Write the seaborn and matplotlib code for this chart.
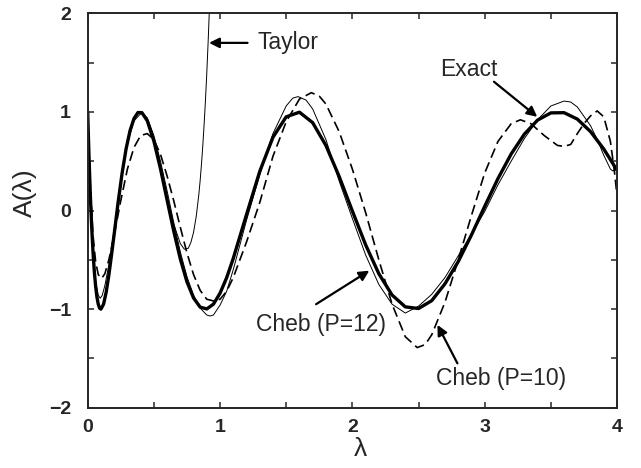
import matplotlib
matplotlib.use("Agg")
import matplotlib.pyplot as plt
import seaborn as sns
import pandas as pd
from matplotlib.ticker import MultipleLocator

# ---------------- data ----------------
exact_x = [0, 0.01, 0.02, 0.03, 0.04, 0.05, 0.06, 0.07, 0.08, 0.09, 0.1, 0.12, 0.14, 0.16,
           0.18, 0.2, 0.23, 0.26, 0.29, 0.32, 0.35, 0.38, 0.41, 0.45, 0.5, 0.55, 0.6, 0.65,
           0.7, 0.75, 0.8, 0.85, 0.9, 0.95, 1.0, 1.05, 1.1, 1.2, 1.3, 1.4, 1.5, 1.6, 1.7, 1.8,
           1.9, 2.0, 2.1, 2.2, 2.3, 2.4, 2.5, 2.6, 2.7, 2.8, 2.9, 3.0, 3.1, 3.2, 3.3, 3.4,
           3.5, 3.6, 3.7, 3.8, 3.9, 4.0]
exact_y = [1.0, 0.54, 0.156, -0.16, -0.416, -0.617, -0.768, -0.879, -0.951, -0.99, -1.0,
           -0.95, -0.826, -0.654, -0.451, -0.24, 0.084, 0.378, 0.624, 0.81, 0.933, 0.994,
           0.992, 0.911, 0.705, 0.424, 0.107, -0.207, -0.491, -0.723, -0.887, -0.98, -0.998,
           -0.95, -0.839, -0.682, -0.486, -0.042, 0.396, 0.743, 0.95, 0.997, 0.891, 0.66,
           0.346, -0.005, -0.347, -0.641, -0.857, -0.977, -0.994, -0.914, -0.743, -0.518,
           -0.248, 0.042, 0.323, 0.573, 0.775, 0.917, 0.99, 0.992, 0.927, 0.8, 0.623, 0.409]

taylor_x = [0, 0.01, 0.02, 0.03, 0.04, 0.05, 0.06, 0.07, 0.08, 0.09, 0.1, 0.12, 0.14, 0.16,
            0.18, 0.2, 0.23, 0.26, 0.29, 0.32, 0.35, 0.38, 0.41, 0.45, 0.5, 0.55, 0.6, 0.65,
            0.7, 0.73, 0.76, 0.78, 0.8, 0.82, 0.84, 0.85, 0.86, 0.87, 0.88, 0.89, 0.9, 0.91,
            0.92]
taylor_y = [1.0, 0.54, 0.156, -0.16, -0.416, -0.617, -0.768, -0.879, -0.951, -0.99, -1.0,
            -0.95, -0.826, -0.654, -0.451, -0.24, 0.084, 0.378, 0.624, 0.81, 0.933, 0.994,
            0.992, 0.911, 0.709, 0.435, 0.136, -0.137, -0.335, -0.392, -0.383, -0.323,
            -0.221, -0.062, 0.164, 0.306, 0.473, 0.661, 0.876, 1.12, 1.395, 1.704, 2.05]

cheb12_x = [0, 0.02, 0.04, 0.06, 0.08, 0.095, 0.11, 0.13, 0.16, 0.2, 0.25, 0.3, 0.35, 0.4,
            0.42, 0.45, 0.5, 0.55, 0.6, 0.65, 0.7, 0.75, 0.8, 0.85, 0.9, 0.925, 0.95, 1.0,
            1.05, 1.1, 1.2, 1.3, 1.4, 1.5, 1.55, 1.59, 1.65, 1.7, 1.8, 1.9, 2.0, 2.1, 2.2,
            2.3, 2.4, 2.5, 2.6, 2.7, 2.8, 2.9, 3.0, 3.1, 3.2, 3.3, 3.4, 3.5, 3.6, 3.65, 3.7,
            3.8, 3.85, 3.9, 3.95, 3.97, 4.0]
cheb12_y = [1.0, 0.2, -0.4, -0.72, -0.86, -0.89, -0.86, -0.76, -0.55, -0.2, 0.3, 0.68,
            0.91, 0.98, 0.98, 0.94, 0.76, 0.5, 0.2, -0.12, -0.42, -0.67, -0.86, -0.99,
            -1.06, -1.07, -1.06, -0.96, -0.82, -0.6, -0.1, 0.36, 0.78, 1.06, 1.14, 1.155,
            1.12, 1.03, 0.72, 0.3, -0.08, -0.45, -0.75, -0.95, -1.04, -0.97, -0.85, -0.68,
            -0.46, -0.24, -0.01, 0.26, 0.5, 0.73, 0.92, 1.06, 1.11, 1.1, 1.05, 0.86, 0.72,
            0.56, 0.42, 0.4, 0.45]

cheb10_x = [0, 0.02, 0.04, 0.06, 0.08, 0.105, 0.13, 0.16, 0.2, 0.25, 0.3, 0.35, 0.4, 0.45,
            0.5, 0.55, 0.6, 0.65, 0.7, 0.75, 0.8, 0.85, 0.9, 0.96, 1.0, 1.05, 1.1, 1.2, 1.3,
            1.4, 1.5, 1.6, 1.69, 1.75, 1.8, 1.9, 2.0, 2.1, 2.2, 2.3, 2.4, 2.49, 2.55, 2.6,
            2.7, 2.8, 2.9, 3.0, 3.1, 3.2, 3.27, 3.35, 3.45, 3.55, 3.6, 3.65, 3.7, 3.75, 3.8,
            3.85, 3.9, 3.95, 3.98, 4.0]
cheb10_y = [0.95, 0.25, -0.25, -0.52, -0.65, -0.69, -0.64, -0.5, -0.25, 0.1, 0.42, 0.64,
            0.76, 0.78, 0.72, 0.57, 0.35, 0.1, -0.17, -0.43, -0.65, -0.81, -0.9, -0.92,
            -0.9, -0.82, -0.68, -0.32, 0.08, 0.55, 0.9, 1.13, 1.195, 1.16, 1.08, 0.8, 0.42,
            -0.02, -0.5, -0.95, -1.28, -1.39, -1.36, -1.26, -0.93, -0.5, -0.05, 0.38, 0.7,
            0.88, 0.92, 0.88, 0.76, 0.66, 0.65, 0.67, 0.78, 0.88, 0.96, 1.01, 0.95, 0.7,
            0.4, 0.15]

labels = ["Taylor", "Exact", "Cheb (P=12)", "Cheb (P=10)"]
x_ticks = [0, 1, 2, 3, 4]
y_ticks = [-2, -1, 0, 1, 2]

# ---------------- figure ----------------
sns.set_style("ticks")
plt.rcParams['font.family'] = ['Liberation Sans', 'DejaVu Sans']
plt.rcParams['axes.linewidth'] = 1.4

fig = plt.figure(figsize=(6.41, 4.68), dpi=100)
ax = fig.add_axes([0.1368, 0.1288, 0.8258, 0.8428])

def draw(xs, ys, **kw):
    df = pd.DataFrame({"x": xs, "y": ys})
    sns.lineplot(data=df, x="x", y="y", ax=ax, sort=False, estimator=None,
                 color="black", **kw)
    return ax.lines[-1]

draw(taylor_x, taylor_y, linewidth=0.7)
draw(cheb12_x, cheb12_y, linewidth=0.7)
ln = draw(cheb10_x, cheb10_y, linewidth=1.2)
ln.set_dashes([6, 3])
draw(exact_x, exact_y, linewidth=2.4)

ax.set_xlim(0, 4)
ax.set_ylim(-2, 2)
ax.set_xticks(x_ticks)
ax.set_yticks(y_ticks)
ax.set_xticklabels([str(t) for t in x_ticks], fontweight="bold")
ax.set_yticklabels([str(t).replace("-", "\u2212") for t in y_ticks], fontweight="bold")
ax.xaxis.set_minor_locator(MultipleLocator(0.5))
ax.yaxis.set_minor_locator(MultipleLocator(0.5))
ax.tick_params(which="both", direction="in", top=True, right=True, length=4, width=1.1,
               labelsize=14)
ax.tick_params(axis="y", pad=12)
ax.tick_params(axis="x", pad=8)
for s in ax.spines.values():
    s.set_visible(True)

ax.set_xlabel("\u03bb", fontsize=19)
ax.set_ylabel("A(\u03bb)", fontsize=19)
ax.xaxis.set_label_coords(0.516, -0.075)
ax.yaxis.set_label_coords(-0.096, 0.544)

fs = 16.5
arrow = dict(arrowstyle="-|>", color="black", lw=1.6, mutation_scale=15, shrinkA=0, shrinkB=0)
ax.text(1.284, 1.70, labels[0], fontsize=fs, ha="left", va="center")
ax.annotate("", xy=(0.917, 1.70), xytext=(1.208, 1.70), arrowprops=arrow)
ax.text(2.665, 1.425, labels[1], fontsize=fs, ha="left", va="center")
ax.annotate("", xy=(3.397, 0.95), xytext=(3.07, 1.306), arrowprops=arrow)
ax.text(1.274, -1.16, labels[2], fontsize=fs, ha="left", va="center")
ax.annotate("", xy=(2.128, -0.61), xytext=(1.726, -0.95), arrowprops=arrow)
ax.text(2.631, -1.70, labels[3], fontsize=fs, ha="left", va="center")
ax.annotate("", xy=(2.643, -1.16), xytext=(2.794, -1.55), arrowprops=arrow)

fig.savefig("out.png", dpi=100)
